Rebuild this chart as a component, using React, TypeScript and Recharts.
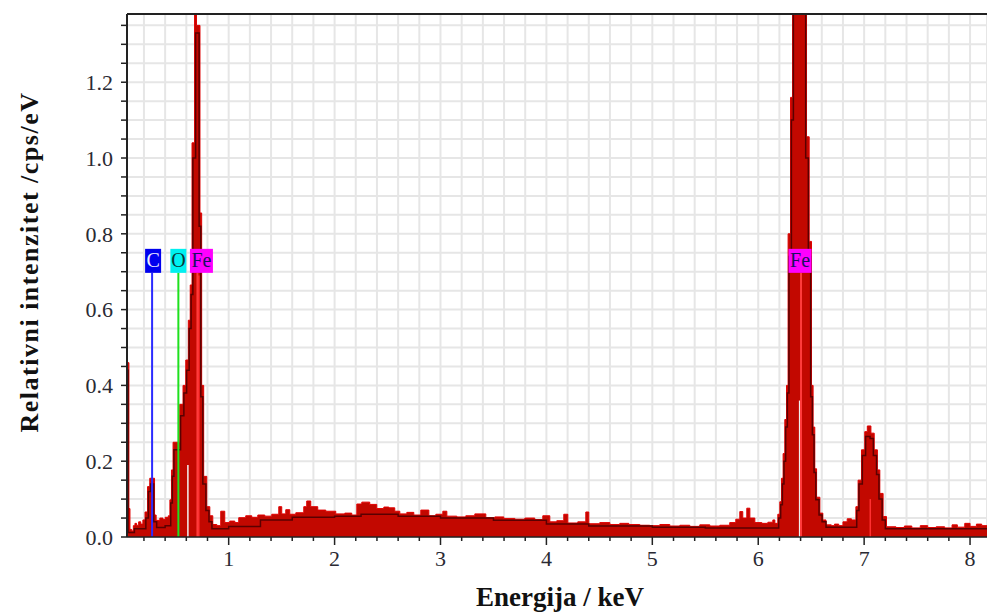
import React from 'react';
import { ComposedChart, Area, Line, XAxis, YAxis, CartesianGrid, ReferenceLine } from 'recharts';

type Pt = { e: number; v: number };

// EDS spectrum, energy in keV / intensity in cps/eV
const lowRange: Pt[] = [
  { e: 0.040, v: 0.46 }, { e: 0.058, v: 0.075 }, { e: 0.068, v: 0.02 }, { e: 0.085, v: 0.016 },
  { e: 0.100, v: 0.030 }, { e: 0.115, v: 0.036 }, { e: 0.130, v: 0.031 }, { e: 0.150, v: 0.040 },
  { e: 0.170, v: 0.034 }, { e: 0.190, v: 0.045 }, { e: 0.210, v: 0.066 }, { e: 0.234, v: 0.133 },
  { e: 0.255, v: 0.155 }, { e: 0.300, v: 0.058 }, { e: 0.315, v: 0.044 }, { e: 0.350, v: 0.050 },
  { e: 0.380, v: 0.046 }, { e: 0.400, v: 0.052 }, { e: 0.430, v: 0.056 }, { e: 0.445, v: 0.098 },
  { e: 0.460, v: 0.177 }, { e: 0.475, v: 0.250 }, { e: 0.538, v: 0.350 }, { e: 0.569, v: 0.400 },
  { e: 0.595, v: 0.467 }, { e: 0.619, v: 0.572 }, { e: 0.637, v: 0.665 }, { e: 0.654, v: 1.040 },
  { e: 0.678, v: 1.520 }, { e: 0.696, v: 1.350 }, { e: 0.729, v: 0.855 }, { e: 0.745, v: 0.400 },
  { e: 0.764, v: 0.160 }, { e: 0.793, v: 0.080 }, { e: 0.822, v: 0.056 },
];

const background: Pt[] = [
  { e: 0.850, v: 0.033 }, { e: 0.888, v: 0.030 }, { e: 0.925, v: 0.068 }, { e: 0.963, v: 0.038 },
  { e: 1.010, v: 0.042 }, { e: 1.058, v: 0.038 }, { e: 1.095, v: 0.051 }, { e: 1.161, v: 0.056 },
  { e: 1.218, v: 0.052 }, { e: 1.275, v: 0.058 }, { e: 1.341, v: 0.055 }, { e: 1.407, v: 0.060 },
  { e: 1.473, v: 0.080 }, { e: 1.501, v: 0.061 }, { e: 1.539, v: 0.072 }, { e: 1.577, v: 0.060 },
  { e: 1.634, v: 0.064 }, { e: 1.709, v: 0.080 }, { e: 1.737, v: 0.095 }, { e: 1.775, v: 0.080 },
  { e: 1.841, v: 0.071 }, { e: 1.917, v: 0.068 }, { e: 2.011, v: 0.061 }, { e: 2.096, v: 0.063 },
  { e: 2.162, v: 0.058 }, { e: 2.210, v: 0.087 }, { e: 2.257, v: 0.092 }, { e: 2.332, v: 0.086 },
  { e: 2.398, v: 0.075 }, { e: 2.465, v: 0.079 }, { e: 2.512, v: 0.077 }, { e: 2.568, v: 0.068 },
  { e: 2.616, v: 0.061 }, { e: 2.682, v: 0.065 }, { e: 2.748, v: 0.058 }, { e: 2.814, v: 0.071 },
  { e: 2.890, v: 0.056 }, { e: 2.956, v: 0.060 }, { e: 3.022, v: 0.068 }, { e: 3.060, v: 0.055 },
  { e: 3.154, v: 0.053 }, { e: 3.239, v: 0.056 }, { e: 3.324, v: 0.061 }, { e: 3.428, v: 0.051 },
  { e: 3.513, v: 0.053 }, { e: 3.598, v: 0.049 }, { e: 3.702, v: 0.047 }, { e: 3.796, v: 0.050 },
  { e: 3.890, v: 0.046 }, { e: 3.966, v: 0.056 }, { e: 4.032, v: 0.040 }, { e: 4.098, v: 0.043 },
  { e: 4.164, v: 0.060 }, { e: 4.202, v: 0.037 }, { e: 4.296, v: 0.040 }, { e: 4.372, v: 0.066 },
  { e: 4.400, v: 0.035 }, { e: 4.504, v: 0.038 }, { e: 4.599, v: 0.033 }, { e: 4.693, v: 0.036 },
  { e: 4.778, v: 0.033 }, { e: 4.882, v: 0.031 }, { e: 4.976, v: 0.030 }, { e: 5.071, v: 0.033 },
  { e: 5.165, v: 0.029 }, { e: 5.260, v: 0.031 }, { e: 5.354, v: 0.028 }, { e: 5.448, v: 0.032 },
  { e: 5.543, v: 0.029 }, { e: 5.637, v: 0.031 }, { e: 5.731, v: 0.038 }, { e: 5.788, v: 0.047 },
  { e: 5.826, v: 0.067 }, { e: 5.854, v: 0.050 }, { e: 5.892, v: 0.076 }, { e: 5.921, v: 0.050 },
  { e: 5.968, v: 0.038 }, { e: 6.034, v: 0.036 }, { e: 6.091, v: 0.039 }, { e: 6.138, v: 0.045 },
  { e: 6.157, v: 0.036 },
];

const kRange: Pt[] = [
  { e: 6.185, v: 0.060 }, { e: 6.204, v: 0.093 }, { e: 6.220, v: 0.155 }, { e: 6.235, v: 0.220 },
  { e: 6.251, v: 0.310 }, { e: 6.267, v: 0.400 }, { e: 6.282, v: 0.800 }, { e: 6.305, v: 1.160 },
  { e: 6.324, v: 1.800 }, { e: 6.346, v: 2.200 }, { e: 6.393, v: 2.000 }, { e: 6.426, v: 1.600 },
  { e: 6.456, v: 1.056 }, { e: 6.481, v: 0.780 }, { e: 6.503, v: 0.400 }, { e: 6.518, v: 0.290 },
  { e: 6.534, v: 0.180 }, { e: 6.551, v: 0.105 }, { e: 6.582, v: 0.063 }, { e: 6.610, v: 0.045 },
  { e: 6.640, v: 0.032 }, { e: 6.690, v: 0.030 }, { e: 6.720, v: 0.034 }, { e: 6.760, v: 0.030 },
  { e: 6.800, v: 0.040 }, { e: 6.840, v: 0.048 }, { e: 6.880, v: 0.045 }, { e: 6.922, v: 0.080 },
  { e: 6.943, v: 0.150 }, { e: 6.975, v: 0.230 }, { e: 7.006, v: 0.278 }, { e: 7.030, v: 0.293 },
  { e: 7.064, v: 0.274 }, { e: 7.095, v: 0.230 }, { e: 7.125, v: 0.177 }, { e: 7.148, v: 0.115 },
  { e: 7.179, v: 0.054 }, { e: 7.211, v: 0.027 }, { e: 7.300, v: 0.025 }, { e: 7.380, v: 0.029 },
  { e: 7.450, v: 0.024 }, { e: 7.530, v: 0.030 }, { e: 7.600, v: 0.025 }, { e: 7.680, v: 0.027 },
  { e: 7.760, v: 0.024 }, { e: 7.830, v: 0.032 }, { e: 7.880, v: 0.026 }, { e: 7.950, v: 0.036 },
  { e: 8.000, v: 0.028 }, { e: 8.060, v: 0.034 }, { e: 8.110, v: 0.030 }, { e: 8.160, v: 0.030 },
];

const spectrum = [...lowRange, ...background, ...kRange];

// dark overlay trace that shows through the filled spectrum
const fitTrace: Pt[] = [
  { e: 0.040, v: 0.44 }, { e: 0.050, v: 0.012 }, { e: 0.110, v: 0.022 }, { e: 0.218, v: 0.050 },
  { e: 0.242, v: 0.120 }, { e: 0.263, v: 0.140 }, { e: 0.292, v: 0.040 }, { e: 0.320, v: 0.025 },
  { e: 0.400, v: 0.030 }, { e: 0.453, v: 0.090 }, { e: 0.468, v: 0.160 }, { e: 0.483, v: 0.230 },
  { e: 0.546, v: 0.320 }, { e: 0.577, v: 0.380 }, { e: 0.603, v: 0.440 }, { e: 0.627, v: 0.550 },
  { e: 0.645, v: 0.640 }, { e: 0.662, v: 1.000 }, { e: 0.688, v: 1.330 }, { e: 0.721, v: 0.820 },
  { e: 0.737, v: 0.370 }, { e: 0.756, v: 0.140 }, { e: 0.785, v: 0.070 }, { e: 0.814, v: 0.040 },
  { e: 0.842, v: 0.022 }, { e: 1.000, v: 0.028 }, { e: 1.300, v: 0.045 }, { e: 1.600, v: 0.052 },
  { e: 2.000, v: 0.055 }, { e: 2.250, v: 0.060 }, { e: 2.600, v: 0.055 }, { e: 3.000, v: 0.050 },
  { e: 3.500, v: 0.044 }, { e: 4.000, v: 0.034 }, { e: 4.400, v: 0.029 }, { e: 5.000, v: 0.026 },
  { e: 5.500, v: 0.024 }, { e: 6.193, v: 0.050 }, { e: 6.212, v: 0.085 }, { e: 6.228, v: 0.140 },
  { e: 6.243, v: 0.200 }, { e: 6.259, v: 0.290 }, { e: 6.275, v: 0.380 }, { e: 6.290, v: 0.740 },
  { e: 6.313, v: 1.100 }, { e: 6.332, v: 1.700 }, { e: 6.354, v: 2.100 }, { e: 6.448, v: 1.000 },
  { e: 6.473, v: 0.740 }, { e: 6.495, v: 0.370 }, { e: 6.511, v: 0.270 }, { e: 6.527, v: 0.170 },
  { e: 6.544, v: 0.098 }, { e: 6.574, v: 0.058 }, { e: 6.603, v: 0.040 }, { e: 6.640, v: 0.026 },
  { e: 6.930, v: 0.070 }, { e: 6.951, v: 0.140 }, { e: 6.983, v: 0.215 }, { e: 7.014, v: 0.265 },
  { e: 7.056, v: 0.260 }, { e: 7.087, v: 0.215 }, { e: 7.117, v: 0.165 }, { e: 7.140, v: 0.100 },
  { e: 7.170, v: 0.045 }, { e: 7.200, v: 0.022 }, { e: 8.160, v: 0.022 },
];

// element markers
const markerNames = ['C', 'O', 'Fe', 'Fe'];
const markerEnergies = [0.277, 0.525, 0.705, 6.404];
const markerHeight = 0.697;

// unlabelled line markers inside the peaks
const extraLineEnergies = [0.615, 0.718, 6.391, 7.058];
const extraLineHeights = [0.19, 0.69, 0.36, 0.1];

const xTicks = [
  0.2, 0.4, 0.6, 0.8, 1, 1.2, 1.4, 1.6, 1.8, 2, 2.2, 2.4, 2.6, 2.8, 3, 3.2, 3.4, 3.6, 3.8, 4,
  4.2, 4.4, 4.6, 4.8, 5, 5.2, 5.4, 5.6, 5.8, 6, 6.2, 6.4, 6.6, 6.8, 7, 7.2, 7.4, 7.6, 7.8, 8,
];
const xLabels = [1, 2, 3, 4, 5, 6, 7, 8];
const yTicks = [
  0, 0.05, 0.1, 0.15, 0.2, 0.25, 0.3, 0.35, 0.4, 0.45, 0.5, 0.55, 0.6, 0.65, 0.7,
  0.75, 0.8, 0.85, 0.9, 0.95, 1, 1.05, 1.1, 1.15, 1.2, 1.25, 1.3, 1.35,
];
const yLabels = [0, 0.2, 0.4, 0.6, 0.8, 1.0, 1.2];
const yMax = 1.38;

const serif = "'Liberation Serif', 'Times New Roman', serif";

const markerStyle: Record<string, { line: string; box: string; text: string }> = {
  C: { line: '#2b2bff', box: '#0000ee', text: '#eeeeff' },
  O: { line: '#1ee01e', box: '#00f0f0', text: '#083838' },
  Fe: { line: '#ff3b3b', box: '#ff00ff', text: '#1a1060' },
};
const markerShift = [1, 0, 4, -1];
const extraLineColors = ['#f2f2f2', '#ff3030', '#eeeeee', '#ff3030'];

const isIn = (v: number, list: number[]) => list.some((t) => Math.abs(t - v) < 1e-6);

const XTick = (props: any) => {
  const { x, y, payload } = props;
  const major = isIn(payload.value, xLabels);
  return (
    <g>
      <line x1={x} x2={x} y1={y} y2={y + (major ? 8 : 4)} stroke="#222" strokeWidth={1.5} />
      {major && (
        <text x={x} y={y + 29} textAnchor="middle" fontFamily={serif} fontSize={22} fill="#2a2a33">
          {Math.round(payload.value)}
        </text>
      )}
    </g>
  );
};

const YTick = (props: any) => {
  const { x, y, payload } = props;
  const major = isIn(payload.value, yLabels);
  return (
    <g>
      <line x1={x} x2={x - 6} y1={y} y2={y} stroke="#222" strokeWidth={1.5} />
      {major && (
        <text x={x - 14} y={y} dy="0.35em" textAnchor="end" fontFamily={serif} fontSize={22} fill="#2a2a33">
          {payload.value.toFixed(1)}
        </text>
      )}
    </g>
  );
};

const MarkerBox = (props: any) => {
  const { viewBox, el, shift } = props;
  if (!viewBox) return null;
  const st = markerStyle[el];
  const w = el.length > 1 ? 23 : 16;
  const h = 24;
  const cx = viewBox.x + shift;
  const top = viewBox.y - h;
  return (
    <g>
      <rect x={cx - w / 2} y={top} width={w} height={h} fill={st.box} />
      <text x={cx} y={top + 18} textAnchor="middle" fontFamily={serif} fontSize={20} fill={st.text}>
        {el}
      </text>
    </g>
  );
};

const XTitle = () => (
  <text x={560} y={606} textAnchor="middle" fontFamily={serif} fontWeight="bold" fontSize={27} fill="#111">
    Energija / keV
  </text>
);

const YTitle = () => (
  <text
    x={38}
    y={262}
    transform="rotate(-90 38 262)"
    textAnchor="middle"
    fontFamily={serif}
    fontWeight="bold"
    fontSize={26}
    letterSpacing={1.5}
    fill="#111"
  >
    Relativni intenzitet /cps/eV
  </text>
);

export default function App() {
  return (
    <div style={{ position: 'absolute', left: 0, top: 0, width: 987, height: 614, background: '#fff', overflow: 'hidden' }}>
      <ComposedChart width={987} height={614} margin={{ top: 14, right: 0, bottom: 0, left: 0 }}>
        <CartesianGrid stroke="#e6e6e6" strokeWidth={2} />
        <XAxis
          dataKey="e"
          type="number"
          domain={[0.04, 8.16]}
          ticks={xTicks}
          interval={0}
          height={77}
          tickSize={0}
          tickMargin={0}
          tickLine={false}
          tick={<XTick />}
          axisLine={{ stroke: '#222', strokeWidth: 1.5 }}
          allowDataOverflow
          label={<XTitle />}
        />
        <YAxis
          type="number"
          domain={[0, yMax]}
          ticks={yTicks}
          interval={0}
          width={127}
          tickSize={0}
          tickMargin={0}
          tickLine={false}
          tick={<YTick />}
          axisLine={{ stroke: '#222', strokeWidth: 2 }}
          allowDataOverflow
          label={<YTitle />}
        />
        <Area
          data={spectrum}
          dataKey="v"
          type="stepAfter"
          fill="#c20800"
          fillOpacity={1}
          stroke="#e00000"
          strokeWidth={1}
          isAnimationActive={false}
          dot={false}
          activeDot={false}
        />
        <Line
          data={fitTrace}
          dataKey="v"
          type="stepAfter"
          stroke="#5a0000"
          strokeWidth={1.5}
          dot={false}
          activeDot={false}
          isAnimationActive={false}
        />
        {extraLineEnergies.map((e, i) => (
          <ReferenceLine
            key={'x' + i}
            segment={[{ x: e, y: 0 }, { x: e, y: extraLineHeights[i] }]}
            stroke={extraLineColors[i]}
            strokeWidth={1.5}
          />
        ))}
        {markerEnergies.map((e, i) => (
          <ReferenceLine
            key={'m' + i}
            segment={[{ x: e, y: 0 }, { x: e, y: markerHeight }]}
            stroke={markerStyle[markerNames[i]].line}
            strokeWidth={2}
            label={<MarkerBox el={markerNames[i]} shift={markerShift[i]} />}
          />
        ))}
        <ReferenceLine y={yMax} stroke="#222" strokeWidth={2} />
      </ComposedChart>
    </div>
  );
}
